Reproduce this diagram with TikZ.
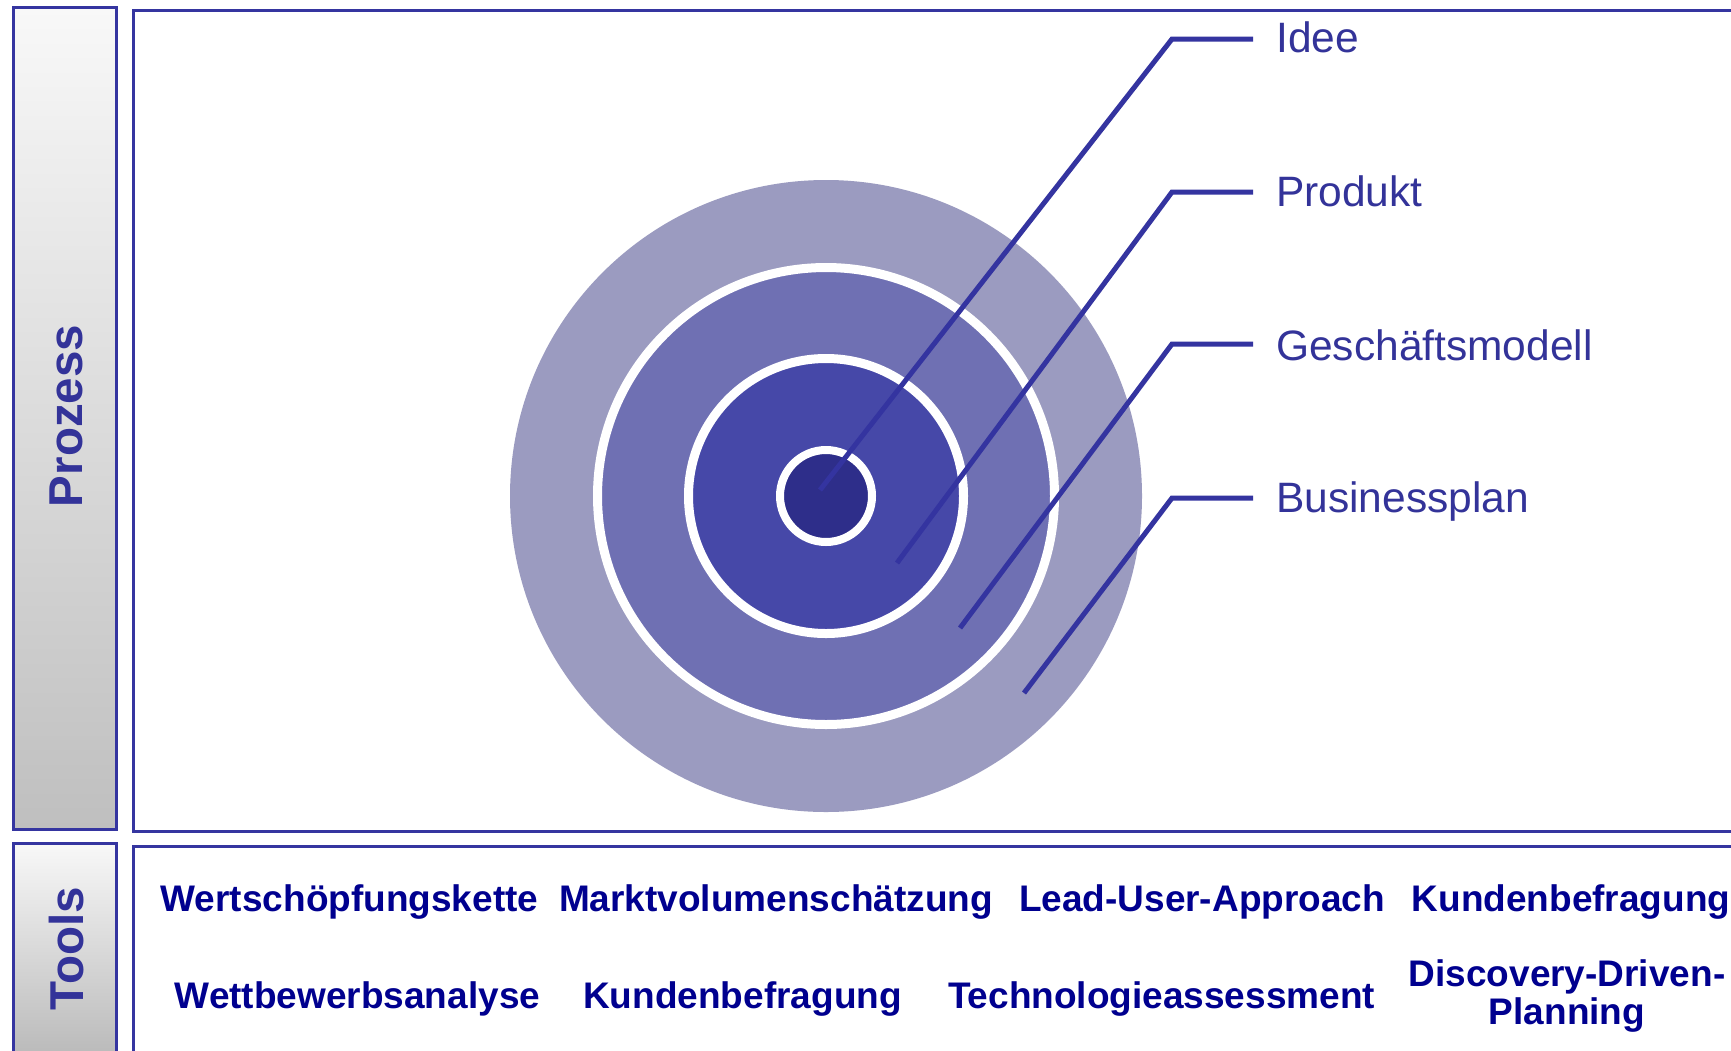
\documentclass[tikz,border=0pt]{standalone}
\usepackage{fontspec}
\setmainfont{Liberation Sans}
\definecolor{frameblue}{HTML}{3535A0}
\definecolor{lineblue}{HTML}{3434A0}
\definecolor{labelblue}{HTML}{333399}
\definecolor{toolblue}{HTML}{00008F}
\definecolor{ringA}{HTML}{9B9BC0}
\definecolor{ringB}{HTML}{6F70B3}
\definecolor{ringC}{HTML}{4648A8}
\definecolor{ringD}{HTML}{2E2E8A}
\definecolor{barTop}{HTML}{F8F8F8}
\definecolor{barBot}{HTML}{BFBFBF}
\tikzset{
  framebox/.style={draw=frameblue, line width=2.5pt, fill=white, anchor=north west, inner sep=0pt},
  sidebar/.style={draw=frameblue, line width=2.5pt, top color=barTop, bottom color=barBot, anchor=north west, inner sep=0pt},
  sidelabel/.style={rotate=90, anchor=base, inner sep=0pt, text=labelblue, font=\fontsize{47.5}{50}\selectfont\bfseries},
  ringlabel/.style={anchor=base west, inner sep=0pt, text=labelblue, font=\fontsize{42.5}{50}\selectfont, text height=28pt, text depth=0pt},
  tool/.style={anchor=base, inner sep=0pt, text=toolblue, font=\fontsize{37}{38}\selectfont\bfseries},
  leader/.style={draw=lineblue, line width=5pt},
  disc/.style={circle, inner sep=0pt, outer sep=0pt},
}
\begin{document}
\begin{tikzpicture}[x=1pt,y=-1pt]
\useasboundingbox (0,0) rectangle (1731,1050);
\clip (0,0) rectangle (1731,1050);
\fill[white] (0,0) rectangle (1731,1050);

% side bars
\node[sidebar, minimum width=103pt, minimum height=822pt] (pbar) at (12,6) {};
\node[sidebar, minimum width=103pt, minimum height=215pt, bottom color=barBot!97!black] (tbar) at (12,842) {};
\node[sidelabel] (plab) at (82.5,416) {Prozess};
\node[sidelabel] (tlab) at (83.5,948.5) {Tools};

% main boxes
\node[framebox, minimum width=1620pt, minimum height=821pt] (pbox) at (132,9) {};
\node[framebox, minimum width=1620pt, minimum height=220pt] (tbox) at (132,845) {};

% target circles
\node[disc, fill=ringA, minimum size=632pt] (c1) at (826,496) {};
\node[disc, fill=ringB, draw=white, line width=9pt, minimum size=457pt] (c2) at (826,496) {};
\node[disc, fill=ringC, draw=white, line width=9pt, minimum size=275pt] (c3) at (826,496) {};
\node[disc, fill=ringD, draw=white, line width=8pt, minimum size=92pt] (c4) at (826,496) {};

% labels
\node[ringlabel] (l1) at (1276,52) {Idee};
\node[ringlabel] (l2) at (1276,206) {Produkt};
\node[ringlabel] (l3) at (1276,360) {Geschäftsmodell};
\node[ringlabel] (l4) at (1276,512) {Businessplan};

% leader lines
\coordinate (s1) at (820,490);
\coordinate (s2) at (897,563);
\coordinate (s3) at (960,628);
\coordinate (s4) at (1024,693);
\coordinate (k1) at (1172,39);
\coordinate (k2) at (1172,192);
\coordinate (k3) at (1172,344);
\coordinate (k4) at (1172,498);
\draw[leader] (s1) -- (k1) -- ([xshift=-23pt]l1.west |- k1);
\draw[leader] (s2) -- (k2) -- ([xshift=-23pt]l2.west |- k2);
\draw[leader] (s3) -- (k3) -- ([xshift=-23pt]l3.west |- k3);
\draw[leader] (s4) -- (k4) -- ([xshift=-23pt]l4.west |- k4);

% tools
\node[tool] (t1) at (349.5,911) {Wertschöpfungskette};
\node[tool] (t2) at (776,911) {Marktvolumenschätzung};
\node[tool] (t3) at (1202,911) {Lead-User-Approach};
\node[tool] (t4) at (1571,911) {Kundenbefragung};
\node[tool] (t5) at (357.5,1008) {Wettbewerbsanalyse};
\node[tool] (t6) at (742.5,1008) {Kundenbefragung};
\node[tool] (t7) at (1161.5,1008) {Technologieassessment};
\node[tool] (t8) at (1567,986) {\begin{tabular}[t]{@{}c@{}}Discovery-Driven-\\Planning\end{tabular}};
\end{tikzpicture}
\end{document}
